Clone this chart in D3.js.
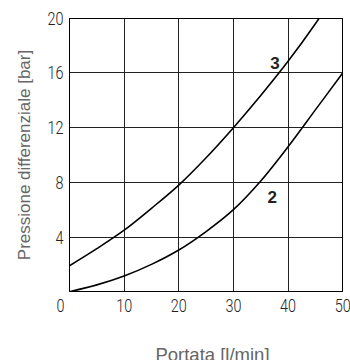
<!DOCTYPE html>
<html>
<head>
<meta charset="utf-8">
<script src="https://cdn.jsdelivr.net/npm/d3@7"></script>
<style>
  html, body { margin: 0; padding: 0; background: #fff; }
  svg { display: block; }
</style>
</head>
<body>
<div id="chart"></div>
<script>
// Flow rate values (l/min) and differential pressure (bar) for each curve
const flow3 = [0, 5, 10, 15, 20, 25, 30, 35, 40, 45, 46];
const pressure3 = [1.9, 3.15, 4.5, 6.1, 7.8, 9.8, 12.0, 14.35, 16.85, 19.6, 20.2];
const flow2 = [0, 5, 10, 15, 20, 25, 30, 35, 40, 45, 50];
const pressure2 = [0, 0.5, 1.15, 2.0, 3.05, 4.4, 6.0, 8.1, 10.6, 13.3, 16.0];
const curveNames = ["3", "2"];
const xTicks = [10, 20, 30, 40, 50];
const yTicks = [4, 8, 12, 16, 20];

const width = 350, height = 360;
const margin = { left: 69.5, right: 7.3, top: 18.3, bottom: 68.3 };

const svg = d3.select("#chart").append("svg")
  .attr("width", width).attr("height", height);

const x = d3.scaleLinear().domain([0, 50]).range([margin.left, width - margin.right]);
const y = d3.scaleLinear().domain([0, 20]).range([height - margin.bottom, margin.top]);

const tickFont = "Roboto, 'DejaVu Sans', sans-serif";
const titleFont = "'Liberation Sans', Arial, sans-serif";

// Grid
const grid = svg.append("g").attr("stroke", "#222").attr("stroke-width", 1).attr("shape-rendering", "crispEdges");
xTicks.forEach(t => grid.append("line")
  .attr("x1", x(t)).attr("x2", x(t)).attr("y1", y(0)).attr("y2", y(20)));
yTicks.forEach(t => grid.append("line")
  .attr("x1", x(0)).attr("x2", x(50)).attr("y1", y(t)).attr("y2", y(t)));
grid.append("rect")
  .attr("x", x(0)).attr("y", y(20))
  .attr("width", x(50) - x(0)).attr("height", y(0) - y(20))
  .attr("fill", "none").attr("stroke", "#000");

// Curves, clipped to the plotting area
svg.append("clipPath").attr("id", "plot")
  .append("rect").attr("x", x(0)).attr("y", y(20))
  .attr("width", x(50) - x(0)).attr("height", y(0) - y(20));

const line = d3.line().x(d => x(d[0])).y(d => y(d[1])).curve(d3.curveCatmullRom);
const series = [
  d3.zip(flow3, pressure3),
  d3.zip(flow2, pressure2)
];
svg.append("g").attr("clip-path", "url(#plot)")
  .selectAll("path").data(series).join("path")
  .attr("d", line)
  .attr("fill", "none").attr("stroke", "#000").attr("stroke-width", 1.6);

// Curve labels
const labelPos = [[37.6, 16.3], [37.1, 6.5]];
svg.selectAll(".clabel").data(curveNames).join("text")
  .attr("class", "clabel")
  .attr("x", (d, i) => x(labelPos[i][0]))
  .attr("y", (d, i) => y(labelPos[i][1]))
  .attr("text-anchor", "middle")
  .attr("font-family", titleFont).attr("font-weight", "bold")
  .attr("font-size", 17).attr("fill", "#222")
  .text(d => d);

// Condensed tick-label helper
function tickText(sel, px, py, anchor, dy) {
  return sel
    .attr("transform", (d, i) => `translate(${px(d, i)},${py(d, i)}) scale(0.8,1)`)
    .attr("dy", dy)
    .attr("text-anchor", anchor)
    .attr("font-family", tickFont).attr("font-weight", 300)
    .attr("font-size", 18).attr("fill", "#222");
}

// Y tick labels
tickText(svg.selectAll(".ytick").data(yTicks).join("text").attr("class", "ytick"),
  () => 63.5, d => y(d), "end", "0.36em").text(d => d);

// X tick labels
tickText(svg.selectAll(".xtick").data(xTicks).join("text").attr("class", "xtick"),
  d => x(d), () => y(0) + 20, "middle", 0).text(d => d);

// Origin label
tickText(svg.append("text"), () => 60.5, () => y(0) + 20, "middle", 0).text("0");

// Axis titles
svg.append("text")
  .attr("x", 212.5).attr("y", 361)
  .attr("text-anchor", "middle")
  .attr("font-family", titleFont).attr("font-size", 18.5).attr("fill", "#666")
  .text("Portata [l/min]");

svg.append("text")
  .attr("transform", "translate(29.5,155) rotate(-90)")
  .attr("text-anchor", "middle")
  .attr("font-family", titleFont).attr("font-size", 17).attr("fill", "#666")
  .text("Pressione differenziale [bar]");
</script>
</body>
</html>
